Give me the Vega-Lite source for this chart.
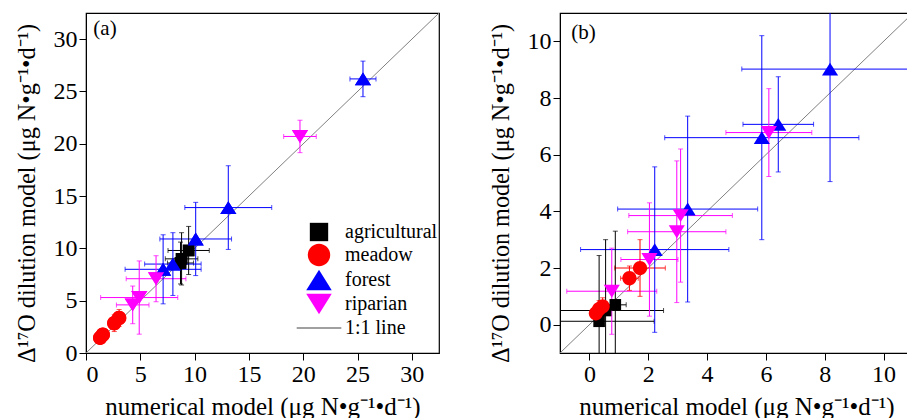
{
  "$schema": "https://vega.github.io/schema/vega-lite/v6.json",
  "padding": {"left": 14, "top": 12, "right": 0, "bottom": 0},
  "background": "white",
  "spacing": 48,
  "config": {
    "font": "Liberation Serif",
    "view": {"stroke": "black", "strokeWidth": 1.2},
    "axis": {"grid": false, "domainColor": "black", "tickColor": "black", "tickSize": 7, "labelFont": "Liberation Serif", "labelFontSize": 24, "labelColor": "black", "labelPadding": 2, "titleFont": "Liberation Serif", "titleFontSize": 25, "titleFontWeight": "normal", "titleColor": "black"},
    "axisX": {"titlePadding": 8},
    "axisY": {"titlePadding": 14, "titleFontSize": 24.2, "titleY": 180}
  },
  "resolve": {"legend": {"color": "independent", "shape": "independent"}},
  "datasets": {
    "a": [
      {"group": "agricultural", "x": 9.45, "y": 9.8, "xe": 1.9, "ye": 2.3},
      {"group": "agricultural", "x": 8.8, "y": 9.0, "xe": 1.5, "ye": 2.5},
      {"group": "agricultural", "x": 8.7, "y": 8.6, "xe": 1.2, "ye": 2.0},
      {"group": "meadow", "x": 1.3, "y": 1.45, "xe": 0.3, "ye": 0.3},
      {"group": "meadow", "x": 1.55, "y": 1.75, "xe": 0.3, "ye": 0.3},
      {"group": "meadow", "x": 2.6, "y": 2.85, "xe": 0.5, "ye": 0.8},
      {"group": "meadow", "x": 3.05, "y": 3.35, "xe": 0.6, "ye": 0.8},
      {"group": "forest", "x": 7.1, "y": 8.0, "xe": 3.5, "ye": 3.3},
      {"group": "forest", "x": 8.0, "y": 8.5, "xe": 2.6, "ye": 3.0},
      {"group": "forest", "x": 10.1, "y": 10.9, "xe": 3.3, "ye": 3.5},
      {"group": "forest", "x": 13.1, "y": 13.9, "xe": 4.0, "ye": 4.0},
      {"group": "forest", "x": 25.5, "y": 26.2, "xe": 1.2, "ye": 1.7},
      {"group": "riparian", "x": 4.3, "y": 4.6, "xe": 1.5, "ye": 1.8},
      {"group": "riparian", "x": 4.9, "y": 5.3, "xe": 3.55, "ye": 3.5},
      {"group": "riparian", "x": 6.45, "y": 7.1, "xe": 2.75, "ye": 2.2},
      {"group": "riparian", "x": 19.7, "y": 20.7, "xe": 1.5, "ye": 1.55}
    ],
    "b": [
      {"group": "agricultural", "x": 0.33, "y": 0.12, "xe": 1.87, "ye": 2.32},
      {"group": "agricultural", "x": 0.55, "y": 0.5, "xe": 1.97, "ye": 2.5},
      {"group": "agricultural", "x": 0.88, "y": 0.7, "xe": 0.37, "ye": 2.6},
      {"group": "meadow", "x": 0.22, "y": 0.4, "xe": 0.15, "ye": 0.2},
      {"group": "meadow", "x": 0.33, "y": 0.55, "xe": 0.2, "ye": 0.3},
      {"group": "meadow", "x": 0.45, "y": 0.65, "xe": 0.2, "ye": 0.3},
      {"group": "meadow", "x": 1.36, "y": 1.64, "xe": 0.3, "ye": 0.43},
      {"group": "meadow", "x": 1.72, "y": 2.0, "xe": 0.86, "ye": 1.0},
      {"group": "forest", "x": 2.22, "y": 2.65, "xe": 2.52, "ye": 2.92},
      {"group": "forest", "x": 3.34, "y": 4.08, "xe": 2.38, "ye": 3.28},
      {"group": "forest", "x": 5.86, "y": 6.6, "xe": 3.3, "ye": 3.6},
      {"group": "forest", "x": 6.42, "y": 7.07, "xe": 1.2, "ye": 1.68},
      {"group": "forest", "x": 8.18, "y": 9.02, "xe": 3.0, "ye": 3.97},
      {"group": "riparian", "x": 0.76, "y": 1.18, "xe": 1.53, "ye": 1.52},
      {"group": "riparian", "x": 2.04, "y": 2.3, "xe": 0.97, "ye": 2.0},
      {"group": "riparian", "x": 2.97, "y": 3.28, "xe": 1.67, "ye": 2.5},
      {"group": "riparian", "x": 3.1, "y": 3.85, "xe": 1.76, "ye": 2.35},
      {"group": "riparian", "x": 6.1, "y": 6.78, "xe": 1.46, "ye": 1.55}
    ]
  },
  "hconcat": [
    {
      "width": 353,
      "height": 340,
      "data": {"name": "a"},
      "encoding": {
        "x": {"field": "x", "type": "quantitative", "scale": {"domain": [0, 32.5], "nice": false, "zero": false}, "axis": {"values": [0, 5, 10, 15, 20, 25, 30], "title": "numerical model (μg N•g⁻¹•d⁻¹)"}},
        "y": {"field": "y", "type": "quantitative", "scale": {"domain": [0, 32.5], "nice": false, "zero": false}, "axis": {"values": [0, 5, 10, 15, 20, 25, 30], "title": "Δ¹⁷O dilution model (μg N•g⁻¹•d⁻¹)"}},
        "color": {"field": "group", "type": "nominal", "scale": {"domain": ["agricultural", "meadow", "forest", "riparian", "1:1 line"], "range": ["#000000", "#ff0000", "#0000ff", "#ff00ff", "#808080"]}, "legend": null}
      },
      "layer": [
        {
          "data": {"values": [{"x": 0, "y": 0, "x2v": 32.5, "y2v": 32.5}]},
          "mark": {"type": "rule", "strokeWidth": 1, "clip": true},
          "encoding": {"x2": {"field": "x2v"}, "y2": {"field": "y2v"}, "color": {"value": "#808080"}}
        },
        {
          "mark": {"type": "point", "filled": true, "size": 260, "opacity": 1},
          "encoding": {
            "shape": {"field": "group", "type": "nominal", "scale": {"domain": ["agricultural", "meadow", "forest", "riparian", "1:1 line"], "range": ["M-0.72,-0.72H0.72V0.72H-0.72Z", "M-0.88,0A0.88,0.88,0,1,0,0.88,0A0.88,0.88,0,1,0,-0.88,0Z", "M0,-0.8L1,0.8L-1,0.8Z", "M0,0.8L1,-0.8L-1,-0.8Z", "M-1.75,-0.05H1.75V0.05H-1.75Z"]}, "legend": {"orient": "none", "legendX": 220, "legendY": 206, "title": null, "symbolSize": 650, "labelFont": "Liberation Serif", "labelFontSize": 20, "labelColor": "black", "labelOffset": 13, "rowPadding": 0, "symbolStrokeWidth": 0, "padding": 0}},
            "color": {"field": "group", "type": "nominal", "legend": {"orient": "none", "legendX": 220, "legendY": 206, "title": null, "symbolSize": 650, "labelFont": "Liberation Serif", "labelFontSize": 20, "labelColor": "black", "labelOffset": 13, "rowPadding": 0, "symbolStrokeWidth": 0, "padding": 0}}
          }
        },
        {"mark": {"type": "errorbar", "ticks": {"size": 5}, "clip": true}, "encoding": {"xError": {"field": "xe"}}},
        {"mark": {"type": "errorbar", "ticks": {"size": 5}, "clip": true}, "encoding": {"yError": {"field": "ye"}}},
        {
          "mark": {"type": "point", "filled": true, "size": 260, "opacity": 1},
          "encoding": {
            "shape": {"field": "group", "type": "nominal", "legend": null}
          }
        },
        {
          "data": {"values": [{"x": 1.75, "y": 31, "label": "(a)"}]},
          "mark": {"type": "text", "fontSize": 21, "font": "Liberation Serif", "align": "center", "baseline": "middle"},
          "encoding": {"text": {"field": "label"}, "color": {"value": "black"}}
        }
      ]
    },
    {
      "width": 353,
      "height": 340,
      "data": {"name": "b"},
      "encoding": {
        "x": {"field": "x", "type": "quantitative", "scale": {"domain": [-1, 11], "nice": false, "zero": false}, "axis": {"values": [0, 2, 4, 6, 8, 10], "title": "numerical model (μg N•g⁻¹•d⁻¹)"}},
        "y": {"field": "y", "type": "quantitative", "scale": {"domain": [-1, 11], "nice": false, "zero": false}, "axis": {"values": [0, 2, 4, 6, 8, 10], "title": "Δ¹⁷O dilution model (μg N•g⁻¹•d⁻¹)"}},
        "color": {"field": "group", "type": "nominal", "scale": {"domain": ["agricultural", "meadow", "forest", "riparian", "1:1 line"], "range": ["#000000", "#ff0000", "#0000ff", "#ff00ff", "#808080"]}, "legend": null}
      },
      "layer": [
        {
          "data": {"values": [{"x": -1, "y": -1, "x2v": 11, "y2v": 11}]},
          "mark": {"type": "rule", "strokeWidth": 1, "clip": true},
          "encoding": {"x2": {"field": "x2v"}, "y2": {"field": "y2v"}, "color": {"value": "#808080"}}
        },
        {"mark": {"type": "errorbar", "ticks": {"size": 5}, "clip": true}, "encoding": {"xError": {"field": "xe"}}},
        {"mark": {"type": "errorbar", "ticks": {"size": 5}, "clip": true}, "encoding": {"yError": {"field": "ye"}}},
        {
          "mark": {"type": "point", "filled": true, "size": 260, "opacity": 1},
          "encoding": {
            "shape": {"field": "group", "type": "nominal", "scale": {"domain": ["agricultural", "meadow", "forest", "riparian", "1:1 line"], "range": ["M-0.72,-0.72H0.72V0.72H-0.72Z", "M-0.88,0A0.88,0.88,0,1,0,0.88,0A0.88,0.88,0,1,0,-0.88,0Z", "M0,-0.8L1,0.8L-1,0.8Z", "M0,0.8L1,-0.8L-1,-0.8Z", "M-1.75,-0.05H1.75V0.05H-1.75Z"]}, "legend": null}
          }
        },
        {
          "data": {"values": [{"x": -0.2, "y": 10.3, "label": "(b)"}]},
          "mark": {"type": "text", "fontSize": 21, "font": "Liberation Serif", "align": "center", "baseline": "middle"},
          "encoding": {"text": {"field": "label"}, "color": {"value": "black"}}
        }
      ]
    }
  ]
}
